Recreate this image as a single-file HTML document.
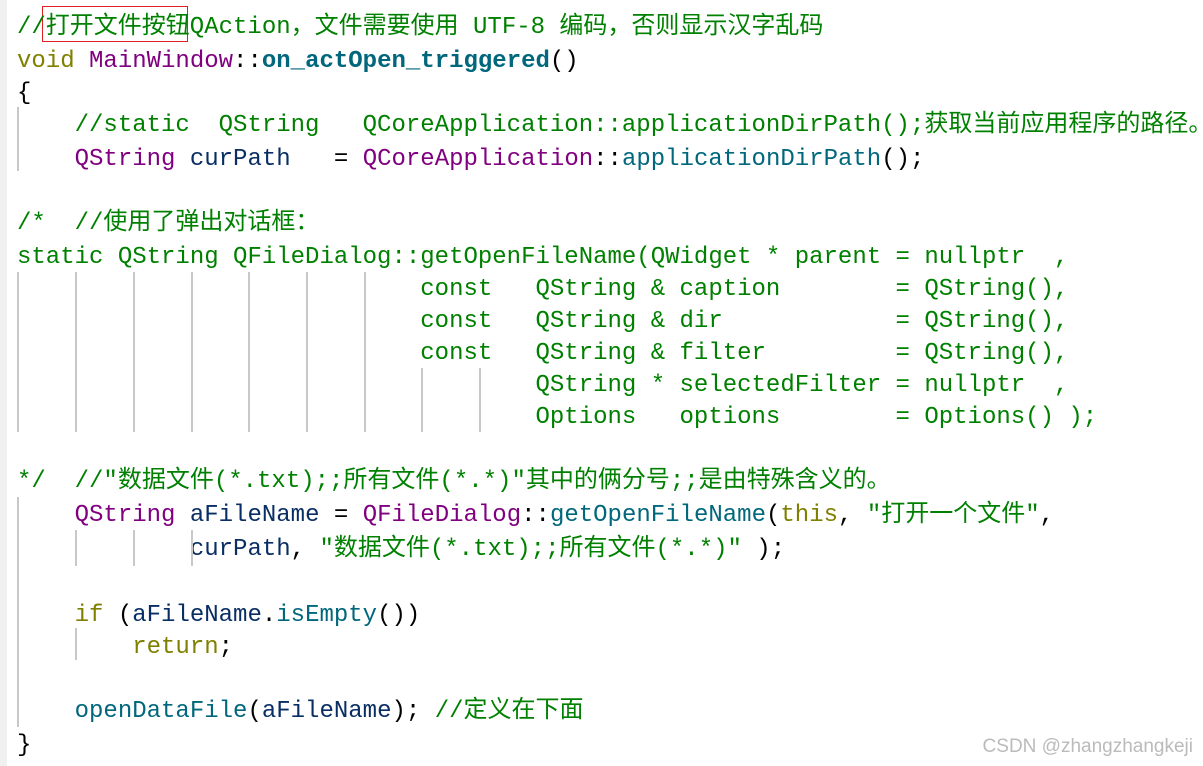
<!DOCTYPE html>
<html><head><meta charset="utf-8"><style>
body{margin:0;width:1203px;height:766px;background:#fff;position:relative;overflow:hidden;font-family:"Liberation Mono","Noto Sans CJK SC",monospace;font-size:24px;}
.strip{position:absolute;left:0;top:0;width:7px;height:766px;background:#f0f0f0}
.l{position:absolute;left:17px;white-space:pre;line-height:34px;height:34px;color:#000}
.g{position:absolute;width:2px;background:#c8c8c8}
.c{color:#008000}.k{color:#808000}.p{color:#800080}.f{color:#00677c}.v{color:#092e64}.s{color:#008000}
.b{font-weight:bold}
.box{position:absolute;left:42px;top:6px;width:146px;height:36px;border:1.5px solid #e02020;box-sizing:border-box}
.wm{position:absolute;right:10px;top:736px;font-family:"Liberation Sans",sans-serif;font-size:19px;color:#bbb}
</style></head><body>
<div class="strip"></div>
<div class="box"></div>
<div class="l c" style="top:11px">//打开文件按钮QAction，文件需要使用 UTF-8 编码，否则显示汉字乱码</div>
<div class="l" style="top:45px"><span class="k">void</span> <span class="p">MainWindow</span>::<span class="f b">on_actOpen_triggered</span>()</div>
<div class="l" style="top:77px">{</div>
<div class="l" style="top:109px">    <span class="c">//static  QString   QCoreApplication::applicationDirPath();获取当前应用程序的路径。</span></div>
<div class="l" style="top:143px">    <span class="p">QString</span> <span class="v">curPath</span>   = <span class="p">QCoreApplication</span>::<span class="f">applicationDirPath</span>();</div>
<div class="l c" style="top:207px">/*  //使用了弹出对话框：</div>
<div class="l c" style="top:241px">static QString QFileDialog::getOpenFileName(QWidget * parent = nullptr  ,</div>
<div class="l c" style="top:273px">                            const   QString &amp; caption        = QString(),</div>
<div class="l c" style="top:305px">                            const   QString &amp; dir            = QString(),</div>
<div class="l c" style="top:337px">                            const   QString &amp; filter         = QString(),</div>
<div class="l c" style="top:369px">                                    QString * selectedFilter = nullptr  ,</div>
<div class="l c" style="top:401px">                                    Options   options        = Options() );</div>
<div class="l c" style="top:465px">*/  //"数据文件(*.txt);;所有文件(*.*)"其中的俩分号;;是由特殊含义的。</div>
<div class="l" style="top:499px">    <span class="p">QString</span> <span class="v">aFileName</span> = <span class="p">QFileDialog</span>::<span class="f">getOpenFileName</span>(<span class="k">this</span>, <span class="s">"打开一个文件"</span>,</div>
<div class="l" style="top:533px">            <span class="v">curPath</span>, <span class="s">"数据文件(*.txt);;所有文件(*.*)"</span> );</div>
<div class="l" style="top:599px">    <span class="k">if</span> (<span class="v">aFileName</span>.<span class="f">isEmpty</span>())</div>
<div class="l" style="top:631px">        <span class="k">return</span>;</div>
<div class="l" style="top:695px">    <span class="f">openDataFile</span>(<span class="v">aFileName</span>); <span class="c">//定义在下面</span></div>
<div class="l" style="top:729px">}</div>
<div class="g" style="left:17px;top:107px;height:64px"></div>
<div class="g" style="left:17px;top:272px;height:160px"></div>
<div class="g" style="left:75px;top:272px;height:160px"></div>
<div class="g" style="left:133px;top:272px;height:160px"></div>
<div class="g" style="left:191px;top:272px;height:160px"></div>
<div class="g" style="left:248px;top:272px;height:160px"></div>
<div class="g" style="left:306px;top:272px;height:160px"></div>
<div class="g" style="left:364px;top:272px;height:160px"></div>
<div class="g" style="left:421px;top:368px;height:64px"></div>
<div class="g" style="left:479px;top:368px;height:64px"></div>
<div class="g" style="left:17px;top:497px;height:230px"></div>
<div class="g" style="left:75px;top:530px;height:36px"></div>
<div class="g" style="left:133px;top:530px;height:36px"></div>
<div class="g" style="left:191px;top:530px;height:36px"></div>
<div class="g" style="left:75px;top:628px;height:32px"></div>
<div class="wm">CSDN @zhangzhangkeji</div>
</body></html>
